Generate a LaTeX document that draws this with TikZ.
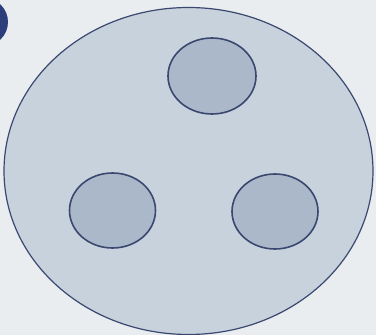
\documentclass[tikz,border=0pt]{standalone}
\usetikzlibrary{shapes.geometric}
\definecolor{paper}{HTML}{E9EDF0}
\definecolor{bigfill}{HTML}{C8D2DD}
\definecolor{smallfill}{HTML}{AAB8CA}
\definecolor{edge}{HTML}{3A4870}
\definecolor{blob}{HTML}{2C3F7C}
\tikzset{
  bigoval/.style={ellipse, draw=edge, fill=bigfill, line width=1.2pt, inner sep=0pt},
  smalloval/.style={ellipse, draw=edge, fill=smallfill, line width=1.6pt, inner sep=0pt, minimum width=86pt, minimum height=75pt},
}
\begin{document}
\begin{tikzpicture}[x=1pt,y=-1pt]
\fill[paper] (0,0) rectangle (376,335);
\useasboundingbox (0,0) rectangle (376,335);
\fill[blob] (-16,22) circle (24);
\node[bigoval, minimum width=369pt, minimum height=327pt] (big) at (188.5,171) {};
\node[smalloval, minimum width=88pt, minimum height=76pt] (top) at (212,76) {};
\node[smalloval] (left) at (112.5,210.5) {};
\node[smalloval] (right) at (275,211.5) {};
\end{tikzpicture}
\end{document}
